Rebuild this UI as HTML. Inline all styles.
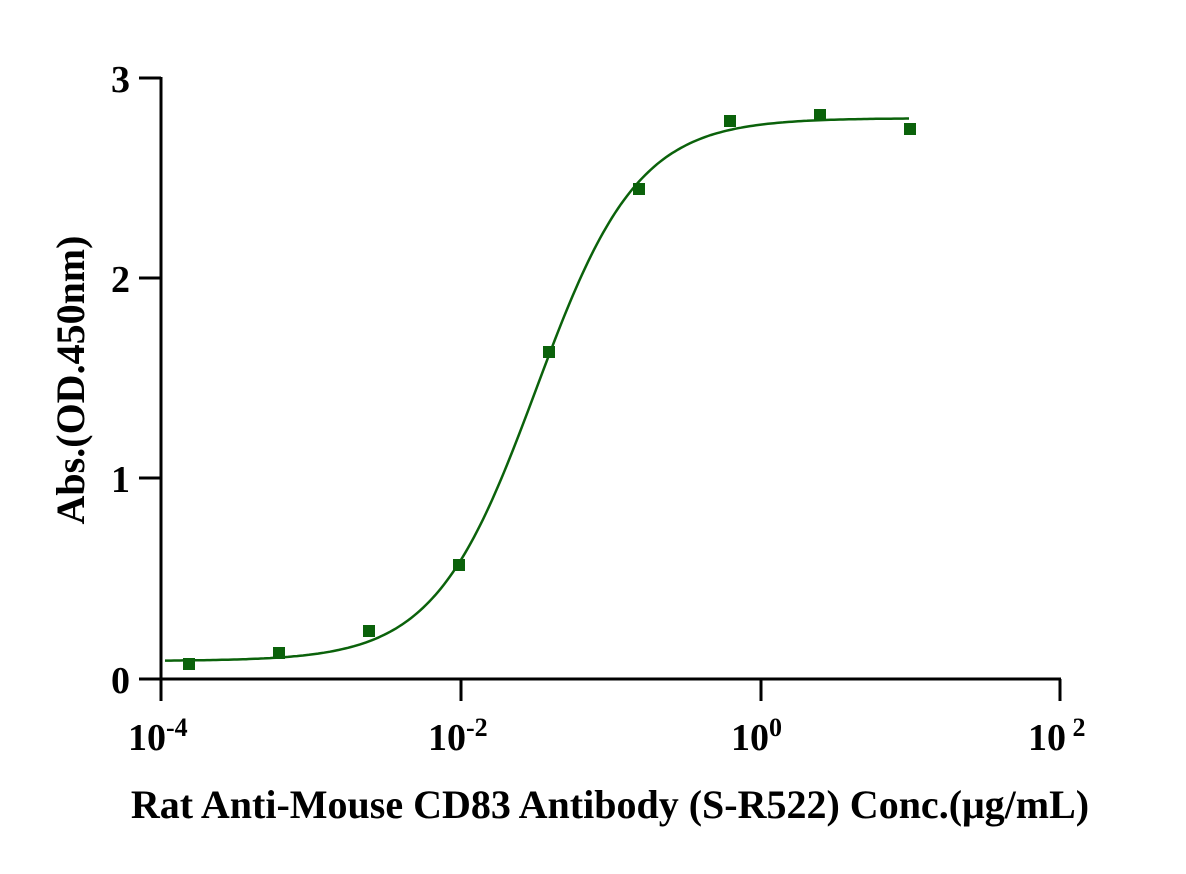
<!DOCTYPE html>
<html><head><meta charset="utf-8"><style>
html,body{margin:0;padding:0;background:#fff;}
svg{display:block;font-family:"Liberation Serif",serif;font-weight:bold;}
</style></head><body>
<svg id="s" width="1186" height="874" viewBox="0 0 1186 874" xmlns="http://www.w3.org/2000/svg">
<g stroke="#000" stroke-width="3" fill="none">
<line x1="161" y1="77" x2="161" y2="680"/>
<line x1="160" y1="679" x2="1061" y2="679"/>
<line x1="139" y1="78" x2="161" y2="78"/>
<line x1="139" y1="278" x2="161" y2="278"/>
<line x1="139" y1="478" x2="161" y2="478"/>
<line x1="139" y1="679" x2="161" y2="679"/>
<line x1="161" y1="679" x2="161" y2="701"/>
<line x1="461" y1="679" x2="461" y2="701"/>
<line x1="761" y1="679" x2="761" y2="701"/>
<line x1="1060" y1="679" x2="1060" y2="701"/>
</g>
<g font-size="38" text-anchor="end">
<text x="130" y="92">3</text>
<text x="130" y="292">2</text>
<text x="130" y="492">1</text>
<text x="130" y="693">0</text>
</g>
<g font-size="38">
<text x="128" y="750">10<tspan font-size="26" dy="-14">-4</tspan></text>
<text x="428" y="750">10<tspan font-size="26" dy="-14">-2</tspan></text>
<text x="731" y="750">10<tspan font-size="26" dy="-14">0</tspan></text>
<text x="1028" y="750">10<tspan font-size="26" dy="-14"> 2</tspan></text>
</g>
<text x="610" y="818" font-size="40" text-anchor="middle">Rat Anti-Mouse CD83 Antibody (S-R522) Conc.(μg/mL)</text>
<text transform="translate(84,380) rotate(-90)" font-size="40" text-anchor="middle">Abs.(OD.450nm)</text>
<path id="c" fill="none" stroke="#0b620b" stroke-width="2.5"/>
<g fill="#0b620b">
<rect x="183" y="658" width="12" height="12"/>
<rect x="273" y="647" width="12" height="12"/>
<rect x="363" y="625" width="12" height="12"/>
<rect x="453" y="559" width="12" height="12"/>
<rect x="543" y="346" width="12" height="12"/>
<rect x="633" y="183" width="12" height="12"/>
<rect x="724" y="115" width="12" height="12"/>
<rect x="814" y="109" width="12" height="12"/>
<rect x="904" y="123" width="12" height="12"/>
</g>
</svg>
<script>
var d="",B=0.09,T=2.80,e=-1.50,h=1.28;
for(var px=165;px<=910;px+=3){var x=-4+(px-161)/150;var y=B+(T-B)/(1+Math.pow(10,(e-x)*h));var py=679-y*200.3;d+=(d?"L":"M")+px+","+py.toFixed(1);}
document.getElementById("c").setAttribute("d",d);
</script>
</body></html>
